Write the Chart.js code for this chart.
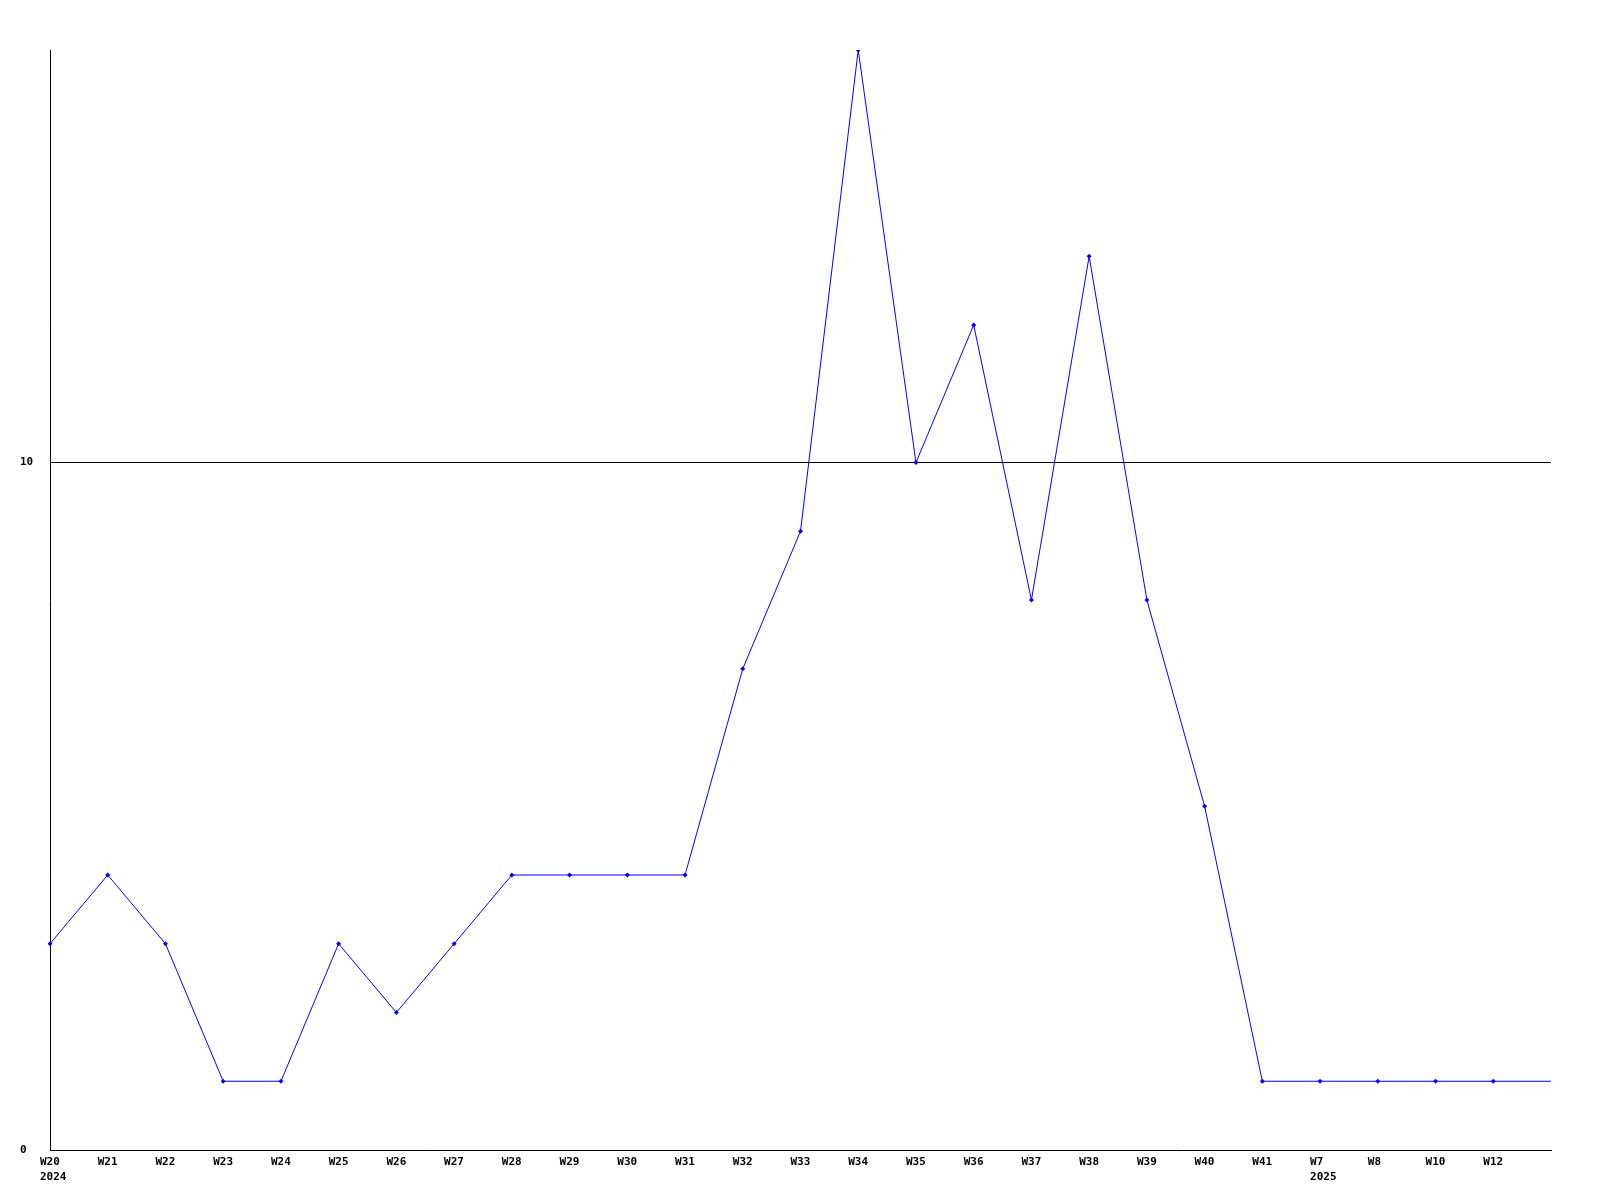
<!DOCTYPE html>
<html>
<head>
<meta charset="utf-8">
<script src="https://cdn.jsdelivr.net/npm/chart.js@4/dist/chart.umd.min.js"></script>
<style>
  html, body { margin: 0; padding: 0; background: #fff; }
  #wrap { width: 1600px; height: 1200px; }
</style>
</head>
<body>
<div id="wrap"><canvas id="chart" width="1600" height="1200"></canvas></div>
<script>
// weeks on the x axis, year shown under the first week of each year
const weeks = ['W20', 'W21', 'W22', 'W23', 'W24', 'W25', 'W26', 'W27', 'W28', 'W29', 'W30',
  'W31', 'W32', 'W33', 'W34', 'W35', 'W36', 'W37', 'W38', 'W39', 'W40', 'W41',
  'W7', 'W8', 'W10', 'W12', ''];
const years = ['2024', '', '', '', '', '', '', '', '', '', '',
  '', '', '', '', '', '', '', '', '', '', '',
  '2025', '', '', '', ''];
const counts = [3, 4, 3, 1, 1, 3, 2, 3, 4, 4, 4,
  4, 7, 9, 16, 10, 12, 8, 13, 8, 5, 1,
  1, 1, 1, 1, 1];
const yTicks = [0, 10];

const labelFont = 'bold 11px "DejaVu Sans Mono", "Liberation Mono", monospace';

// draws tick labels the way the original does: left aligned 10px before the tick
const tickLabels = {
  id: 'tickLabels',
  afterDraw(chart) {
    const ctx = chart.ctx;
    const x = chart.scales.x;
    const y = chart.scales.y;
    ctx.save();
    ctx.font = labelFont;
    ctx.fillStyle = '#000';
    ctx.textAlign = 'left';
    ctx.textBaseline = 'middle';
    weeks.forEach((w, i) => {
      const px = x.getPixelForValue(i) - 10;
      if (w) ctx.fillText(w, px, 1162);
      if (years[i]) ctx.fillText(years[i], px, 1177);
    });
    yTicks.forEach(v => {
      ctx.fillText(String(v), 20, y.getPixelForValue(v));
    });
    ctx.restore();
  }
};

new Chart(document.getElementById('chart'), {
  type: 'line',
  data: {
    labels: weeks,
    datasets: [{
      data: counts,
      borderColor: '#0000ff',
      backgroundColor: '#0000ff',
      borderWidth: 1,
      tension: 0,
      pointStyle: 'rectRot',
      pointRadius: counts.map((c, i) => i === counts.length - 1 ? 0 : 2.5),
      pointBorderWidth: 0,
      pointHoverRadius: 0
    }]
  },
  options: {
    responsive: false,
    animation: false,
    events: [],
    layout: { padding: { left: 50, right: 49, top: 50, bottom: 50 } },
    plugins: {
      legend: { display: false },
      tooltip: { enabled: false }
    },
    scales: {
      x: {
        offset: false,
        afterFit: s => { s.height = 0; },
        grid: { display: false },
        border: { display: true, color: '#000', width: 1 },
        ticks: { display: false }
      },
      y: {
        min: 0,
        max: 16,
        afterFit: s => { s.width = 0; },
        afterBuildTicks: scale => { scale.ticks = yTicks.map(v => ({ value: v })); },
        grid: {
          drawTicks: false,
          color: ctx => ctx.tick && ctx.tick.value === 10 ? '#000' : 'rgba(0,0,0,0)',
          lineWidth: 1
        },
        border: { display: true, color: '#000', width: 1 },
        ticks: { display: false }
      }
    }
  },
  plugins: [tickLabels]
});
</script>
</body>
</html>
